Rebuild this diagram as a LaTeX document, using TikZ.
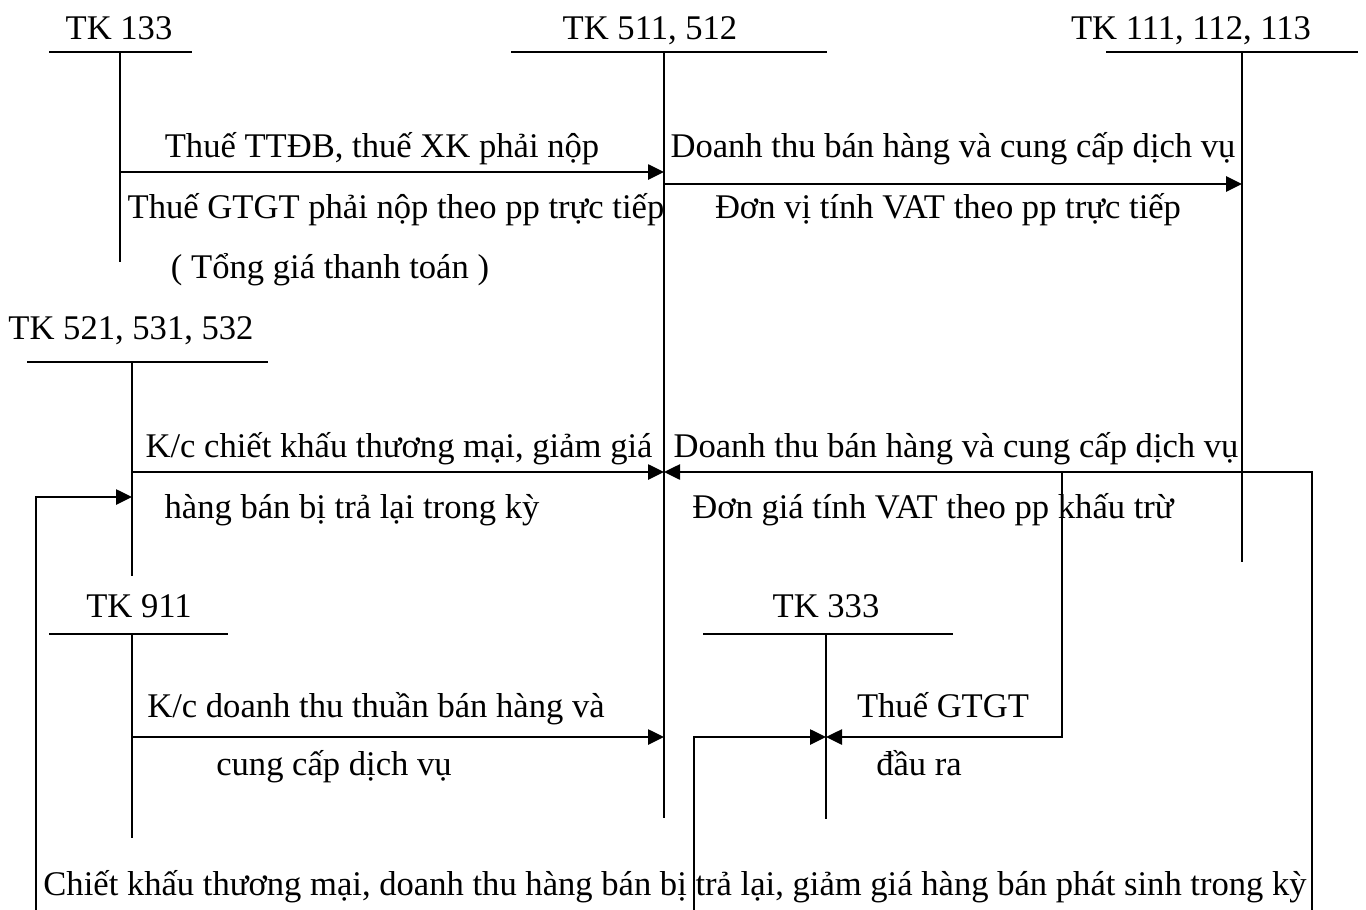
\documentclass[tikz,border=0pt]{standalone}
\usepackage{fontspec}
\setmainfont{Liberation Serif}
\usetikzlibrary{arrows.meta}

\begin{document}
\begin{tikzpicture}[x=1pt, y=-1pt,
    every node/.style={font=\fontsize{34.6}{41}\selectfont, inner sep=0pt},
    txt/.style={anchor=base},
    tline/.style={line width=1.8pt},
    flow/.style={line width=2.6pt, -{Triangle[length=16pt,width=15pt]}}]
    \useasboundingbox (0,0) rectangle (1366,910);
    % account titles
    \node[txt] (h133) at (119,39)  {TK 133};
    \node[txt] (h511) at (650,39)  {TK 511, 512};
    \node[txt] (h111) at (1191,39) {TK 111, 112, 113};
    \node[txt] (h521) at (131,339) {TK 521, 531, 532};
    \node[txt] (h911) at (139,617) {TK 911};
    \node[txt] (h333) at (826,617) {TK 333};
    % T accounts
    \coordinate (a133) at (120,52);
    \coordinate (a511) at (664,52);
    \coordinate (a111) at (1242,52);
    \coordinate (a521) at (132,362);
    \coordinate (a911) at (132,634);
    \coordinate (a333) at (826,634);
    \draw[tline] (49,52) -- (192,52);   \draw[tline] (a133) -- (120,262);
    \draw[tline] (511,52) -- (827,52);  \draw[tline] (a511) -- (664,818);
    \draw[tline] (1106,52) -- (1358,52); \draw[tline] (a111) -- (1242,562);
    \draw[tline] (27,362) -- (268,362); \draw[tline] (a521) -- (132,576);
    \draw[tline] (49,634) -- (228,634); \draw[tline] (a911) -- (132,838);
    \draw[tline] (703,634) -- (953,634); \draw[tline] (a333) -- (826,819);
    % rows and columns of the flows
    \coordinate (r1) at (0,172);
    \coordinate (r2) at (0,184);
    \coordinate (r3) at (0,472);
    \coordinate (r4) at (0,497);
    \coordinate (r5) at (0,737);
    \coordinate (bot) at (0,910);
    \coordinate (c1) at (36,0);
    \coordinate (c2) at (694,0);
    \coordinate (c3) at (1062,0);
    \coordinate (c4) at (1312,0);
    \draw[flow] (a133 |- r1) -- (a511 |- r1);
    \draw[flow] (a511 |- r2) -- (a111 |- r2);
    \draw[flow] (a521 |- r3) -- (a511 |- r3);
    \draw[flow] (c4 |- bot) |- (a511 |- r3);
    \draw[flow] (c1 |- bot) |- (a521 |- r4);
    \draw[flow] (a911 |- r5) -- (a511 |- r5);
    \draw[flow] (c3 |- r3) |- (a333 |- r5);
    \draw[flow] (c2 |- bot) |- (a333 |- r5);
    % labels
    \node[txt] (l1) at (382,157) {Thuế TTĐB, thuế XK phải nộp};
    \node[txt] (l2) at (396,218) {Thuế GTGT phải nộp theo pp trực tiếp};
    \node[txt] (l3) at (330,278) {( Tổng giá thanh toán )};
    \node[txt] (l4) at (953,157) {Doanh thu bán hàng và cung cấp dịch vụ};
    \node[txt] (l5) at (948,218) {Đơn vị tính VAT theo pp trực tiếp};
    \node[txt] (l6) at (399,457) {K/c chiết khấu thương mại, giảm giá};
    \node[txt] (l7) at (352,518) {hàng bán bị trả lại trong kỳ};
    \node[txt] (l8) at (956,457) {Doanh thu bán hàng và cung cấp dịch vụ};
    \node[txt] (l9) at (933,518) {Đơn giá tính VAT theo pp khấu trừ};
    \node[txt] (l10) at (376,717) {K/c doanh thu thuần bán hàng và};
    \node[txt] (l11) at (334,775) {cung cấp dịch vụ};
    \node[txt] (l12) at (943,717) {Thuế GTGT};
    \node[txt] (l13) at (919,775) {đầu ra};
    \node[txt] (l14) at (675,895) {Chiết khấu thương mại, doanh thu hàng bán bị trả lại, giảm giá hàng bán phát sinh trong kỳ};
\end{tikzpicture}
\end{document}
